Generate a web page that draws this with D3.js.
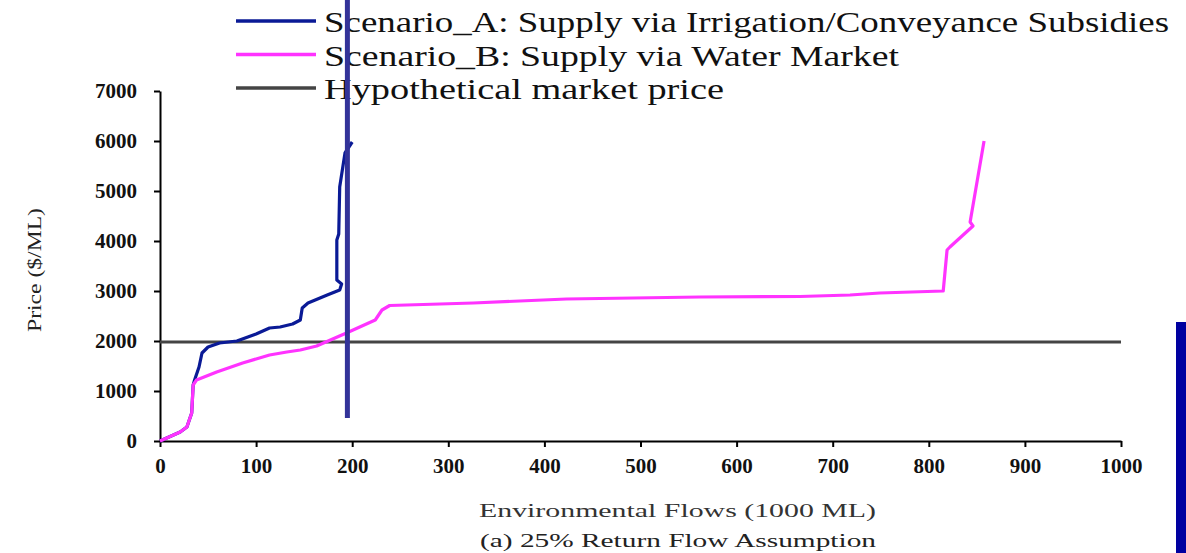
<!DOCTYPE html>
<html>
<head>
<meta charset="utf-8">
<script src="https://cdn.jsdelivr.net/npm/d3@7"></script>
<style>
  body { margin: 0; background: #fff; }
  svg { display: block; }
  text { font-family: "Liberation Serif", "Times New Roman", serif; }
</style>
</head>
<body>
<div id="chart"></div>
<script>
// values: [flow (1000 ML), price ($/ML)]
const scenarioA = [
    [0, 0], [21, 180], [28, 280], [33, 560], [34.5, 1120], [36, 1220], [40.6, 1480],
    [43.7, 1760], [50, 1880], [62, 1960], [80, 2000], [100, 2140], [114, 2260], [125, 2280],
    [138, 2340], [146, 2420], [148, 2660], [154, 2760], [174, 2920], [187, 3020],
    [189, 3140], [184, 3220], [184, 4020], [186, 4140], [187, 5080], [192.5, 5760],
    [200, 5980]
];
const scenarioB = [
    [0, 0], [21, 180], [28, 280], [33, 560], [34.5, 1120], [38, 1220], [59, 1380],
    [86, 1560], [114, 1720], [132, 1780], [146, 1820], [163, 1900], [194, 2160],
    [224, 2420], [231, 2620], [239, 2710], [326, 2760], [423, 2840], [562, 2880],
    [666, 2890], [718, 2920], [749, 2960], [815, 3000], [819, 3820], [822, 3880],
    [846, 4300], [843, 4380], [857.5, 6000]
];
const marketPrice = [[0, 1980], [1000, 1980]];
const xTicks = [0, 100, 200, 300, 400, 500, 600, 700, 800, 900, 1000];
const yTicks = [0, 1000, 2000, 3000, 4000, 5000, 6000, 7000];
// the stray vertical marker drawn over the plot
const marker = [[195, 460], [195, 8820]];

const legendItems = [
    { label: 'Scenario_A: Supply via Irrigation/Conveyance Subsidies', color: '#0a1a96', len: 845 },
    { label: 'Scenario_B: Supply via Water Market', color: '#ff33ff', len: 575 },
    { label: 'Hypothetical market price', color: '#444444', len: 400 }
];

const width = 1186;
const height = 553;
const margin = { top: 91, left: 160, right: 65, bottom: 112 };

const svg = d3.select('#chart')
    .append('svg')
    .attr('width', width)
    .attr('height', height);

const x = d3.scaleLinear()
    .domain([0, 1000])
    .range([margin.left, width - margin.right]);

const y = d3.scaleLinear()
    .domain([0, 7000])
    .range([height - margin.bottom, margin.top]);

const line = d3.line()
    .x(d => x(d[0]))
    .y(d => y(d[1]));

// axes
const yAxis = svg.append('g')
    .attr('transform', `translate(${x(0)},0)`)
    .call(d3.axisLeft(y).tickValues(yTicks).tickSize(6).tickSizeOuter(0).tickPadding(17).tickFormat(d3.format('d')));

const xAxis = svg.append('g')
    .attr('transform', `translate(0,${y(0)})`)
    .call(d3.axisBottom(x).tickValues(xTicks).tickSize(6).tickSizeOuter(0).tickPadding(11).tickFormat(d3.format('d')));

[yAxis, xAxis].forEach(g => {
    g.select('.domain').attr('stroke', '#000').attr('stroke-width', 2);
    g.selectAll('.tick line').attr('stroke', '#000').attr('stroke-width', 2);
    g.selectAll('.tick text')
        .attr('font-family', '"Liberation Serif", serif')
        .attr('font-weight', 'bold')
        .attr('font-size', '21px')
        .attr('fill', '#111');
});

// series
svg.append('path')
    .datum(marketPrice)
    .attr('d', line)
    .attr('fill', 'none')
    .attr('stroke', '#444444')
    .attr('stroke-width', 3);

svg.append('path')
    .datum(scenarioA)
    .attr('d', line)
    .attr('fill', 'none')
    .attr('stroke', '#0a1a96')
    .attr('stroke-width', 3.2)
    .attr('stroke-linejoin', 'round');

svg.append('path')
    .datum(scenarioB)
    .attr('d', line)
    .attr('fill', 'none')
    .attr('stroke', '#ff33ff')
    .attr('stroke-width', 3.2)
    .attr('stroke-linejoin', 'round');

// legend
const legend = svg.append('g');
legendItems.forEach((d, i) => {
    const ly = 21 + i * 33.5;
    legend.append('line')
        .attr('x1', 236).attr('x2', 316)
        .attr('y1', ly).attr('y2', ly)
        .attr('stroke', d.color)
        .attr('stroke-width', 3.5);
    legend.append('text')
        .attr('x', 324)
        .attr('y', ly + 11)
        .attr('font-size', '30px')
        .attr('fill', '#111')
        .attr('textLength', d.len)
        .attr('lengthAdjust', 'spacingAndGlyphs')
        .text(d.label);
});

// titles
svg.append('text')
    .attr('transform', 'translate(41,270) rotate(-90)')
    .attr('text-anchor', 'middle')
    .attr('font-size', '18px')
    .attr('fill', '#222')
    .attr('textLength', 124)
    .attr('lengthAdjust', 'spacingAndGlyphs')
    .text('Price ($/ML)');

svg.append('text')
    .attr('x', 479)
    .attr('y', 517)
    .attr('font-size', '19px')
    .attr('fill', '#333')
    .attr('textLength', 397)
    .attr('lengthAdjust', 'spacingAndGlyphs')
    .text('Environmental Flows (1000 ML)');

svg.append('text')
    .attr('x', 480)
    .attr('y', 547)
    .attr('font-size', '19px')
    .attr('fill', '#222')
    .attr('textLength', 396)
    .attr('lengthAdjust', 'spacingAndGlyphs')
    .text('(a) 25% Return Flow Assumption');

// overlay marks from the source slide
svg.append('path')
    .datum(marker)
    .attr('d', line)
    .attr('stroke', '#333399')
    .attr('stroke-width', 5);

svg.append('rect')
    .attr('x', 1176)
    .attr('y', 322)
    .attr('width', 10)
    .attr('height', height - 322)
    .attr('fill', '#0000a0');
</script>
</body>
</html>
